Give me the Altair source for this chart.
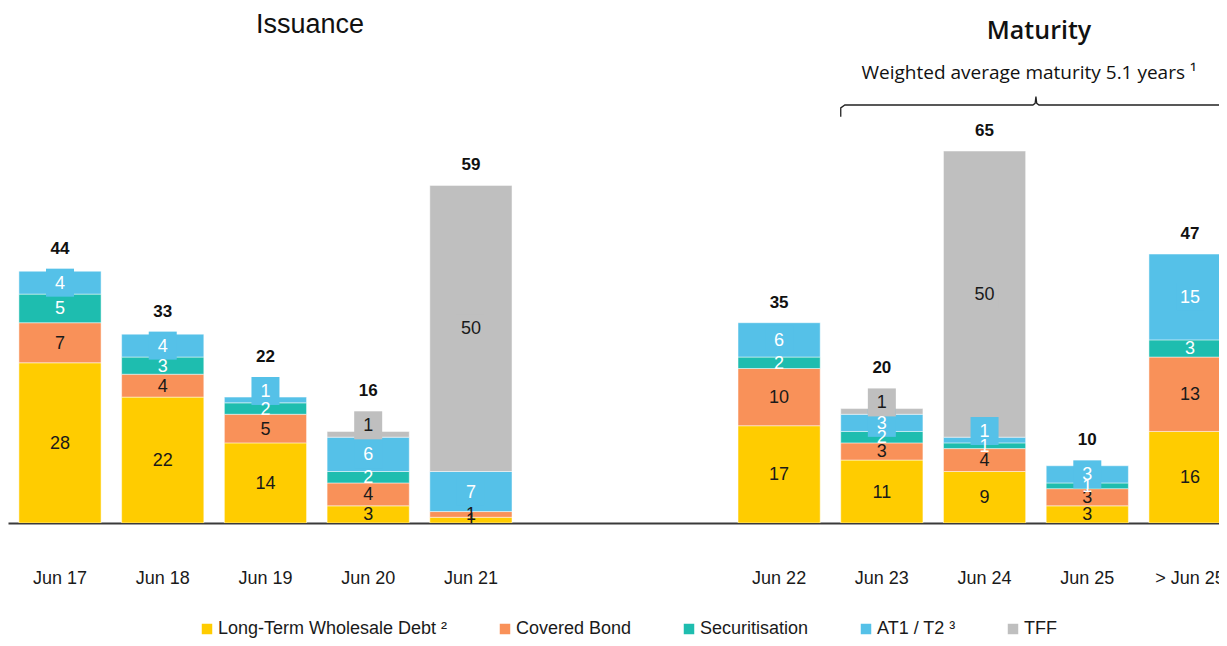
import altair as alt
import pandas as pd

# ---------------- data ----------------
periods = ["Jun 17", "Jun 18", "Jun 19", "Jun 20", "Jun 21",
           "Jun 22", "Jun 23", "Jun 24", "Jun 25", "> Jun 25"]
groups = ["Issuance"] * 5 + ["Maturity"] * 5
series = ["Long-Term Wholesale Debt", "Covered Bond", "Securitisation", "AT1 / T2", "TFF"]
ltwd = [28, 22, 14, 3, 1, 17, 11, 9, 3, 16]
covered = [7, 4, 5, 4, 1, 10, 3, 4, 3, 13]
securitisation = [5, 3, 2, 2, 0, 2, 2, 1, 1, 3]
at1_t2 = [4, 4, 1, 6, 7, 6, 3, 1, 3, 15]
tff = [0, 0, 0, 1, 50, 0, 1, 50, 0, 0]
totals = [44, 33, 22, 16, 59, 35, 20, 65, 10, 47]
footnotes = {"Long-Term Wholesale Debt": "²", "AT1 / T2": "³"}
titles = ["Issuance", "Maturity"]
subtitle = "Weighted average maturity 5.1 years ¹"

# ---------------- styles / layout ----------------
colors = ["#FFCC00", "#F99159", "#1EBDAF", "#55C1E8", "#BFBFBF"]
label_colors = ["#1a1a1a", "#1a1a1a", "#ffffff", "#ffffff", "#1a1a1a"]
badge_series = ["AT1 / T2", "TFF"]
FONT = "Liberation Sans"

W, H = 1211, 515          # plot area
PAD_BOTTOM = 115
step_px = 102.73
first_center_px = 52.0
gap_slots = 2
bar_half = 0.4
y_max = 90.0
ppu = H / y_max
x_min = -first_center_px / step_px
x_max = x_min + W / step_px

values_by_series = [ltwd, covered, securitisation, at1_t2, tff]

seg_rows, tot_rows, cat_rows = [], [], []
for i, p in enumerate(periods):
    slot = i + (gap_slots if groups[i] == "Maturity" else 0)
    base = 0.0
    anchor = float(totals[i])
    for s, vals, col, lc in zip(series, values_by_series, colors, label_colors):
        v = vals[i]
        if v <= 0:
            continue
        mid = base + v / 2.0
        is_badge = s in badge_series
        if is_badge and v * ppu < 8:
            mid += 9.0 / ppu
        if is_badge:
            anchor = max(anchor, mid + 14.0 / ppu)
        seg_rows.append(dict(period=p, slot=slot, xl=slot - bar_half, xr=slot + bar_half,
                             series=s, value=v, y0=base, y1=base + v, ymid=mid,
                             fill=col, lab=lc, badge=is_badge))
        base += v
    tot_rows.append(dict(slot=slot, total=totals[i], anchor=anchor))
    cat_rows.append(dict(slot=slot, period=p))

seg = pd.DataFrame(seg_rows)
tot = pd.DataFrame(tot_rows)
cats = pd.DataFrame(cat_rows)

xs = alt.Scale(domain=[x_min, x_max], nice=False, zero=False)
ys = alt.Scale(domain=[0, y_max], nice=False)

label_expr = "datum.label"
for k, sup in footnotes.items():
    label_expr = f"datum.label == '{k}' ? datum.label + ' {sup}' : ({label_expr})"

bars = alt.Chart(seg).mark_bar(clip=True, stroke="white", strokeWidth=0.8, strokeOpacity=0.6).encode(
    x=alt.X("xl:Q", scale=xs, axis=alt.Axis(labels=False, ticks=False, grid=False, domain=True,
                                            domainColor="#3a3a3a", domainWidth=2, title=None)),
    x2="xr:Q",
    y=alt.Y("y0:Q", scale=ys, axis=None),
    y2="y1:Q",
    color=alt.Color("series:N", scale=alt.Scale(domain=series, range=colors),
                    legend=alt.Legend(orient="none", legendX=190, legendY=612, direction="horizontal",
                                      columns=5, gridAlign="each", columnPadding=48, padding=0,
                                      symbolType="square", symbolSize=110, symbolStrokeWidth=0,
                                      labelFontSize=18, labelFont=FONT, labelColor="#1a1a1a",
                                      labelOffset=2, labelLimit=500, title=None,
                                      labelExpr=label_expr)),
)

badges = alt.Chart(seg).transform_filter("datum.badge").mark_square(size=784, opacity=1, clip=True).encode(
    x=alt.X("slot:Q", scale=xs),
    y=alt.Y("ymid:Q", scale=ys),
    color=alt.Color("fill:N", scale=None),
)

seg_text = alt.Chart(seg).mark_text(font=FONT, fontSize=18, dy=1, baseline="middle", align="center",
                                    clip=True).encode(
    x=alt.X("slot:Q", scale=xs),
    y=alt.Y("ymid:Q", scale=ys),
    text="value:Q",
    color=alt.Color("lab:N", scale=None),
)

tot_text = alt.Chart(tot).mark_text(font=FONT, fontSize=17, fontWeight="bold", dy=-20,
                                    baseline="middle", align="center", color="#111111").encode(
    x=alt.X("slot:Q", scale=xs),
    y=alt.Y("anchor:Q", scale=ys),
    text="total:Q",
)

cat_text = alt.Chart(cats).mark_text(font=FONT, fontSize=18, baseline="middle", align="center",
                                     color="#1a1a1a").encode(
    x=alt.X("slot:Q", scale=xs),
    y=alt.value(571),
    text="period:N",
)

title_issuance = alt.Chart(pd.DataFrame({"t": [titles[0]]})).mark_text(
    font=FONT, fontSize=27, baseline="middle", align="center", color="#111111").encode(
    x=alt.value(302), y=alt.value(17), text="t:N")
title_maturity = alt.Chart(pd.DataFrame({"t": [titles[1]]})).mark_text(
    font="Open Sans", fontSize=25, fontWeight=600, baseline="middle", align="center", color="#111111").encode(
    x=alt.value(1031), y=alt.value(23), text="t:N")
sub = alt.Chart(pd.DataFrame({"t": [subtitle]})).mark_text(
    font="Open Sans", fontSize=19, baseline="middle", align="center", color="#111111").encode(
    x=alt.value(1021), y=alt.value(65), text="t:N")

# brace over the maturity bars (Jun 23 .. > Jun 25)
b_left = 8 - bar_half
b_right = 11 + bar_half
b_mid = (b_left + b_right) / 2
b_y = 73.05
b_hook = 71.0
b_tip = 74.5
bx = [b_left, b_left, b_left + 0.04, b_mid - 0.03, b_mid - 0.008, b_mid, b_mid + 0.008, b_mid + 0.03,
      b_right - 0.04, b_right, b_right]
by = [b_hook, b_y - 0.5, b_y, b_y, b_y + 0.3, b_tip, b_y + 0.3, b_y, b_y, b_y - 0.5, b_hook]
brace_df = pd.DataFrame({"x": bx, "y": by, "o": list(range(len(bx)))})
brace = alt.Chart(brace_df).mark_line(color="#222222", strokeWidth=1.3, clip=True).encode(
    x=alt.X("x:Q", scale=xs), y=alt.Y("y:Q", scale=ys), order="o:Q")

chart = alt.layer(bars, badges, seg_text, tot_text, cat_text, title_issuance, title_maturity, sub, brace).properties(
    width=W, height=H,
    autosize=alt.AutoSizeParams(type="none"),
    padding={"left": 0, "top": 0, "right": 0, "bottom": PAD_BOTTOM},
).configure_view(strokeWidth=0)

chart.save("out.html", embed_options={"renderer": "svg", "actions": False})
